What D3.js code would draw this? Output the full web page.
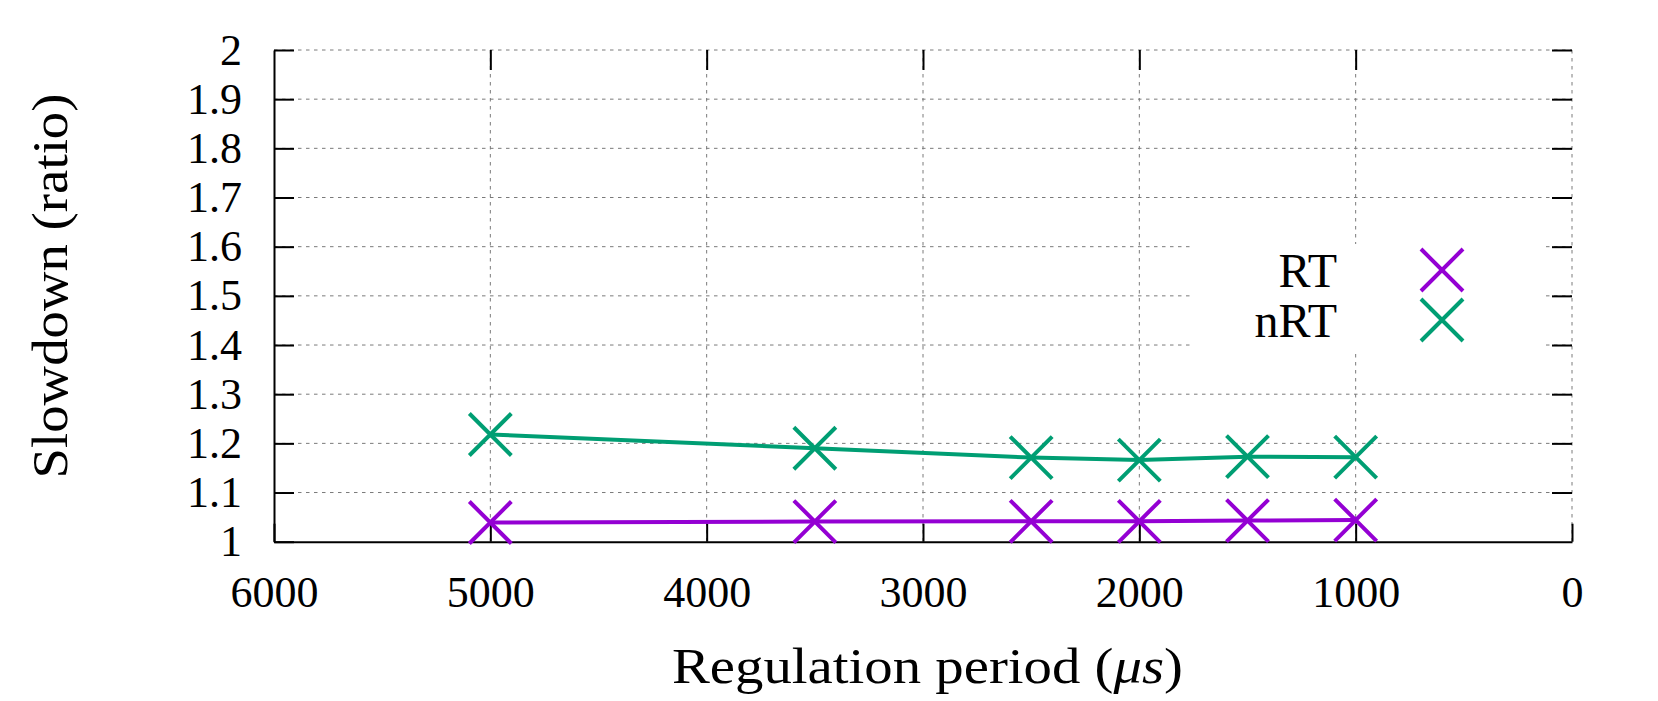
<!DOCTYPE html>
<html>
<head>
<meta charset="utf-8">
<script src="https://cdn.jsdelivr.net/npm/d3@7.9.0/dist/d3.min.js"></script>
<style>
  html, body { margin: 0; padding: 0; background: #fff; }
  svg text { font-family: "Liberation Serif", "DejaVu Serif", serif; fill: #000; }
</style>
</head>
<body>
<svg id="chart" width="1658" height="701"></svg>
<script>
// data
const periods = [5000, 3500, 2500, 2000, 1500, 1000];
const rtValues = [1.039, 1.041, 1.0415, 1.0415, 1.043, 1.044];
const nrtValues = [1.218, 1.19, 1.171, 1.166, 1.173, 1.172];

const seriesNames = ['RT', 'nRT'];
const seriesColors = ['#9400d3', '#009e73'];

const xTicks = [6000, 5000, 4000, 3000, 2000, 1000, 0];
const yTicks = [1, 1.1, 1.2, 1.3, 1.4, 1.5, 1.6, 1.7, 1.8, 1.9, 2];

const plotL = 274, plotR = 1572, plotT = 50, plotB = 541.7;
const svg = d3.select('#chart');

const x = d3.scaleLinear().domain([6000, 0]).range([plotL, plotR]);
const y = d3.scaleLinear().domain([1, 2]).range([plotB, plotT]);

// dotted grid
const grid = svg.append('g')
  .attr('stroke', '#7a7a7a')
  .attr('stroke-width', 1)
  .attr('stroke-dasharray', '3.5,4.5');
grid.selectAll('line.h').data(yTicks.slice(1)).join('line')
  .attr('class', 'h')
  .attr('x1', plotL).attr('x2', plotR)
  .attr('y1', d => y(d)).attr('y2', d => y(d));
grid.selectAll('line.v').data(xTicks.slice(1)).join('line')
  .attr('class', 'v')
  .attr('y1', plotT).attr('y2', plotB)
  .attr('x1', d => x(d)).attr('x2', d => x(d));

// axes (ticks point inward, mirrored on top and right)
const fmt = d3.format('~g');
const axisFont = g => g.selectAll('text')
  .attr('font-family', null)
  .style('font-size', '44px')
  .attr('fill', '#000');

svg.append('g')
  .attr('transform', `translate(${plotL},0)`)
  .call(d3.axisLeft(y).tickValues(yTicks).tickFormat(fmt).tickSize(-20).tickSizeOuter(0).tickPadding(32))
  .call(g => g.select('.domain').attr('stroke-width', 2))
  .call(g => g.selectAll('.tick line').attr('stroke-width', 2))
  .call(axisFont);

svg.append('g')
  .attr('transform', `translate(0,${plotB})`)
  .call(d3.axisBottom(x).tickValues(xTicks).tickFormat(fmt).tickSize(-18).tickSizeOuter(0).tickPadding(33.8))
  .call(g => g.select('.domain').attr('stroke-width', 2))
  .call(g => g.selectAll('.tick line').attr('stroke-width', 2))
  .call(axisFont);

svg.append('g')
  .attr('transform', `translate(0,${plotT})`)
  .call(d3.axisTop(x).tickValues(xTicks.slice(1, -1)).tickFormat('').tickSize(-20).tickSizeOuter(0))
  .call(g => g.select('.domain').remove())
  .call(g => g.selectAll('.tick line').attr('stroke-width', 2));

svg.append('g')
  .attr('transform', `translate(${plotR},0)`)
  .call(d3.axisRight(y).tickValues(yTicks.slice(1)).tickFormat('').tickSize(-20).tickSizeOuter(0))
  .call(g => g.select('.domain').remove())
  .call(g => g.selectAll('.tick line').attr('stroke-width', 2));

svg.selectAll('.domain, .tick line').attr('stroke', '#000');

// axis titles
svg.append('text')
  .attr('transform', 'rotate(-90)')
  .attr('x', -286).attr('y', 67)
  .attr('text-anchor', 'middle')
  .attr('textLength', 385).attr('lengthAdjust', 'spacingAndGlyphs')
  .style('font-size', '50px')
  .text('Slowdown (ratio)');

const xt = svg.append('text')
  .attr('x', 927.5).attr('y', 683)
  .attr('text-anchor', 'middle')
  .attr('textLength', 511).attr('lengthAdjust', 'spacingAndGlyphs')
  .style('font-size', '50px');
xt.append('tspan').text('Regulation period (');
xt.append('tspan').style('font-style', 'italic').text('μs');
xt.append('tspan').text(')');

// series
const series = [rtValues, nrtValues].map((vals, i) => ({
  name: seriesNames[i],
  color: seriesColors[i],
  points: periods.map((p, j) => ({ p, v: vals[j] }))
}));

const line = d3.line().x(d => x(d.p)).y(d => y(d.v));
const half = 21;
const cross = (cx, cy) => `M${cx - half},${cy - half}L${cx + half},${cy + half}M${cx - half},${cy + half}L${cx + half},${cy - half}`;

series.forEach(s => {
  svg.append('path')
    .attr('d', line(s.points))
    .attr('fill', 'none')
    .attr('stroke', s.color)
    .attr('stroke-width', 4);
  svg.append('g').selectAll('path').data(s.points).join('path')
    .attr('d', d => cross(x(d.p), y(d.v)))
    .attr('stroke', s.color)
    .attr('stroke-width', 4)
    .attr('fill', 'none');
});

// legend (opaque box over grid)
const legend = svg.append('g');
legend.append('rect')
  .attr('x', 1192).attr('y', 244)
  .attr('width', 350).attr('height', 106)
  .attr('fill', '#fff');
series.forEach((s, i) => {
  const cy = 270 + i * 50;
  legend.append('text')
    .attr('x', 1337).attr('y', cy + 17)
    .attr('text-anchor', 'end')
    .style('font-size', '48px')
    .text(s.name);
  legend.append('path')
    .attr('d', cross(1442, cy))
    .attr('stroke', s.color)
    .attr('stroke-width', 4)
    .attr('fill', 'none');
});
</script>
</body>
</html>
